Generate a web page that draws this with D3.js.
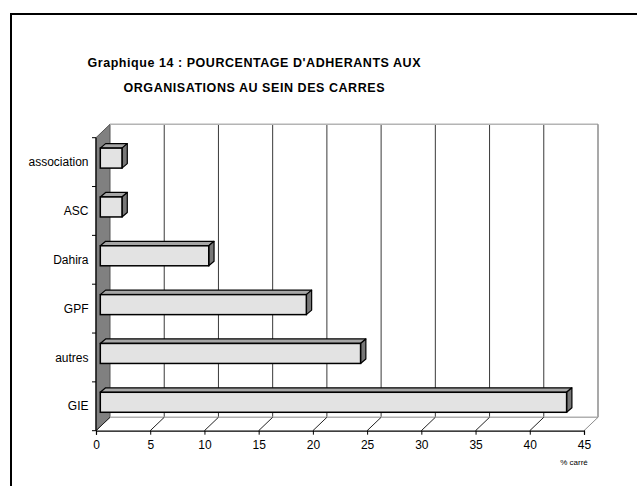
<!DOCTYPE html>
<html>
<head>
<meta charset="utf-8">
<script src="https://cdn.jsdelivr.net/npm/d3@7"></script>
<style>
  body { margin: 0; background: #fff; }
  svg { display: block; font-family: "Liberation Sans", Arial, sans-serif; }
</style>
</head>
<body>
<svg id="chart" width="637" height="486"></svg>
<script>
// data
var categories = ['association', 'ASC', 'Dahira', 'GPF', 'autres', 'GIE'];
var values = [2, 2, 10, 19, 24, 43];
var ticks = [0, 5, 10, 15, 20, 25, 30, 35, 40, 45];
var titleLines = ["Graphique 14 : POURCENTAGE D'ADHERANTS AUX", 'ORGANISATIONS AU SEIN DES CARRES'];

var svg = d3.select('#chart');

// outer frame, runs off the right and bottom of the picture
svg.append('rect')
  .attr('x', 11).attr('y', 14)
  .attr('width', 700).attr('height', 600)
  .attr('fill', 'none').attr('stroke', '#000').attr('stroke-width', 2);

var x = d3.scaleLinear().domain([0, 45]).range([96, 584]);
var y = d3.scaleBand().domain(categories).range([137.7, 430.7]);

// 3d offsets
var dx = 14, dy = -13.4;       // wall depth
var bx = 5.3, by = -4.5;       // bar depth
var shiftX = 4.3;              // bars sit a bit inside the depth
var barH = 20;

var yTop = y.range()[0];
var yBot = y.range()[1];

// left wall
svg.append('polygon')
  .attr('points', [[x(0), yTop], [x(0) + dx, yTop + dy], [x(0) + dx, yBot + dy], [x(0), yBot]].join(' '))
  .attr('fill', '#808080').attr('stroke', '#555').attr('stroke-width', 1);

// back wall grid
svg.selectAll('line.grid')
  .data(ticks.slice(1, -1))
  .enter()
  .append('line')
  .attr('class', 'grid')
  .attr('x1', function(d) { return x(d) + dx; })
  .attr('x2', function(d) { return x(d) + dx; })
  .attr('y1', yTop + dy)
  .attr('y2', yBot + dy)
  .attr('stroke', '#3a3a3a').attr('stroke-width', 1);

// top and right edges of back wall
svg.append('line')
  .attr('x1', x(0) + dx).attr('x2', x(45) + dx)
  .attr('y1', yTop + dy).attr('y2', yTop + dy)
  .attr('stroke', '#b4b4b4').attr('stroke-width', 1.5);
svg.append('line')
  .attr('x1', x(45) + dx).attr('x2', x(45) + dx)
  .attr('y1', yTop + dy).attr('y2', yBot + dy)
  .attr('stroke', '#8c8c8c').attr('stroke-width', 1.5);

// floor
svg.append('line')
  .attr('x1', x(0) + dx).attr('x2', x(45) + dx)
  .attr('y1', yBot + dy).attr('y2', yBot + dy)
  .attr('stroke', '#b0b0b0').attr('stroke-width', 1.5);
svg.selectAll('line.floor')
  .data(ticks)
  .enter()
  .append('line')
  .attr('class', 'floor')
  .attr('x1', function(d) { return x(d); })
  .attr('x2', function(d) { return x(d) + dx; })
  .attr('y1', yBot)
  .attr('y2', yBot + dy)
  .attr('stroke', function(d) { return d === 45 ? '#8c8c8c' : '#222'; })
  .attr('stroke-width', 1);

// bars
var bars = svg.selectAll('g.bar')
  .data(categories)
  .enter()
  .append('g')
  .attr('class', 'bar');

function barGeom(c, i) {
  var x0 = x(0) + shiftX;
  var x1 = x(values[i]) + shiftX;
  var y0 = y(c) + y.bandwidth() / 2 - 4 - barH / 2;
  return { x0: x0, x1: x1, y0: y0, y1: y0 + barH };
}

bars.append('polygon')
  .attr('points', function(c, i) {
    var g = barGeom(c, i);
    return [[g.x0, g.y0], [g.x0 + bx, g.y0 + by], [g.x1 + bx, g.y0 + by], [g.x1, g.y0]].join(' ');
  })
  .attr('fill', '#a6a6a6').attr('stroke', '#000').attr('stroke-width', 1.2).attr('stroke-linejoin', 'round');

bars.append('polygon')
  .attr('points', function(c, i) {
    var g = barGeom(c, i);
    return [[g.x1, g.y0], [g.x1 + bx, g.y0 + by], [g.x1 + bx, g.y1 + by], [g.x1, g.y1]].join(' ');
  })
  .attr('fill', '#777').attr('stroke', '#000').attr('stroke-width', 1.2).attr('stroke-linejoin', 'round');

bars.append('rect')
  .attr('x', function(c, i) { return barGeom(c, i).x0; })
  .attr('y', function(c, i) { return barGeom(c, i).y0; })
  .attr('width', function(c, i) { var g = barGeom(c, i); return g.x1 - g.x0; })
  .attr('height', barH)
  .attr('fill', '#e3e3e3').attr('stroke', '#000').attr('stroke-width', 1.5);

// value axis
var xAxis = svg.append('g')
  .attr('transform', 'translate(0,' + yBot + ')')
  .call(d3.axisBottom(x).tickValues(ticks).tickSize(4).tickPadding(6).tickFormat(d3.format('d')));
xAxis.select('.domain').attr('stroke', '#000').attr('stroke-width', 1.2);
xAxis.selectAll('.tick line').attr('stroke', '#000');
xAxis.selectAll('text')
  .attr('font-family', '"Liberation Sans", Arial, sans-serif')
  .attr('font-size', 12).attr('fill', '#000');

// category axis: ticks at band edges, labels at band centres
svg.append('line')
  .attr('x1', x(0)).attr('x2', x(0))
  .attr('y1', yTop).attr('y2', yBot)
  .attr('stroke', '#000').attr('stroke-width', 1.2);
var edges = categories.map(function(c) { return y(c); }).concat([yBot]);
svg.selectAll('line.ytick')
  .data(edges)
  .enter()
  .append('line')
  .attr('class', 'ytick')
  .attr('x1', x(0) - 4).attr('x2', x(0))
  .attr('y1', function(d) { return d; })
  .attr('y2', function(d) { return d; })
  .attr('stroke', '#000');

svg.selectAll('text.ylabel')
  .data(categories)
  .enter()
  .append('text')
  .attr('class', 'ylabel')
  .attr('x', 88.5)
  .attr('y', function(c) { return y(c) + y.bandwidth() / 2; })
  .attr('dy', '0.35em')
  .attr('text-anchor', 'end')
  .attr('font-size', 12)
  .text(function(c) { return c; });

// unit
svg.append('text')
  .attr('x', 574).attr('y', 465)
  .attr('text-anchor', 'middle')
  .attr('font-size', 8)
  .text('% carré');

// title
var titleWidths = [333, 261];
svg.selectAll('text.title')
  .data(titleLines)
  .enter()
  .append('text')
  .attr('class', 'title')
  .attr('x', 254)
  .attr('y', function(d, i) { return 67 + i * 25; })
  .attr('text-anchor', 'middle')
  .attr('font-size', 12.5)
  .attr('font-weight', 'bold')
  .attr('textLength', function(d, i) { return titleWidths[i]; })
  .attr('lengthAdjust', 'spacing')
  .text(function(d) { return d; });
</script>
</body>
</html>
